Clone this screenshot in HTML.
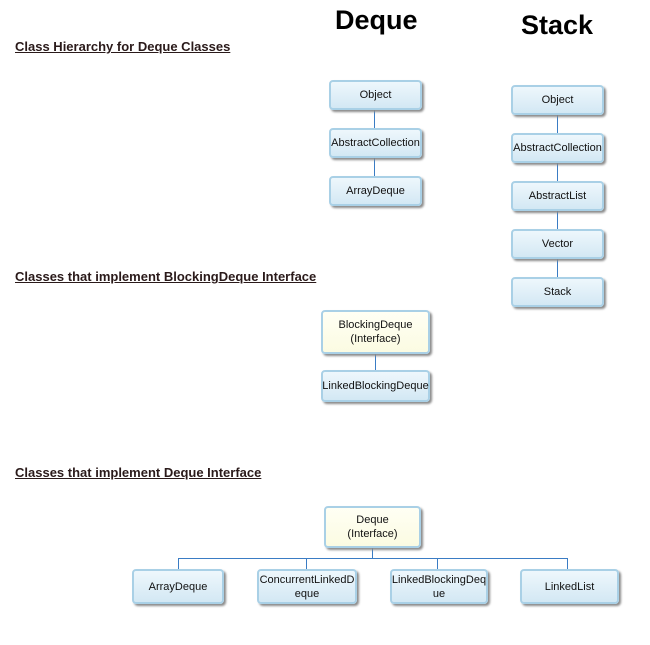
<!DOCTYPE html>
<html><head><style>
body{margin:0;width:650px;height:645px;background:#fff;position:relative;font-family:"Liberation Sans",sans-serif;overflow:hidden}
.t{position:absolute;font-weight:bold;font-size:27px;color:#000}
.h{position:absolute;left:15px;font-weight:bold;font-size:13px;text-decoration:underline;color:#2a1a1a}
.b{position:absolute;box-sizing:border-box;border:2px solid #a9d0e6;border-radius:4px;background:linear-gradient(#eef7fc,#d3e8f4);box-shadow:2px 2px 2px #8a8a8a;font-size:11px;color:#111;display:flex;align-items:center;justify-content:center;text-align:center;line-height:14px}
.y{background:linear-gradient(#fffff4,#fbfbe2)}
.v{position:absolute;width:1px;background:#3a7cc4}
.hl{position:absolute;height:1px;background:#3a7cc4}
</style></head><body>
<div class="t" style="left:335px;top:5px">Deque</div>
<div class="t" style="left:521px;top:10px">Stack</div>
<div class="h" style="top:39px">Class Hierarchy for Deque Classes</div>
<div class="h" style="top:269px">Classes that implement BlockingDeque Interface</div>
<div class="h" style="top:465px">Classes that implement Deque Interface</div>

<div class="v" style="left:374px;top:109px;height:70px"></div>
<div class="b" style="left:329px;top:80px;width:93px;height:30px">Object</div>
<div class="b" style="left:329px;top:128px;width:93px;height:30px">AbstractCollection</div>
<div class="b" style="left:329px;top:176px;width:93px;height:30px">ArrayDeque</div>

<div class="v" style="left:557px;top:114px;height:165px"></div>
<div class="b" style="left:511px;top:85px;width:93px;height:30px">Object</div>
<div class="b" style="left:511px;top:133px;width:93px;height:30px">AbstractCollection</div>
<div class="b" style="left:511px;top:181px;width:93px;height:30px">AbstractList</div>
<div class="b" style="left:511px;top:229px;width:93px;height:30px">Vector</div>
<div class="b" style="left:511px;top:277px;width:93px;height:30px">Stack</div>

<div class="v" style="left:375px;top:352px;height:20px"></div>
<div class="b y" style="left:321px;top:310px;width:109px;height:44px">BlockingDeque<br>(Interface)</div>
<div class="b" style="left:321px;top:370px;width:109px;height:32px">LinkedBlockingDeque</div>

<div class="v" style="left:372px;top:546px;height:12px"></div>
<div class="hl" style="left:178px;top:558px;width:390px"></div>
<div class="v" style="left:178px;top:558px;height:12px"></div>
<div class="v" style="left:306px;top:558px;height:12px"></div>
<div class="v" style="left:437px;top:558px;height:12px"></div>
<div class="v" style="left:567px;top:558px;height:12px"></div>
<div class="b y" style="left:324px;top:506px;width:97px;height:42px">Deque<br>(Interface)</div>
<div class="b" style="left:132px;top:569px;width:92px;height:35px">ArrayDeque</div>
<div class="b" style="left:257px;top:569px;width:100px;height:35px">ConcurrentLinkedD<br>eque</div>
<div class="b" style="left:390px;top:569px;width:98px;height:35px">LinkedBlockingDeq<br>ue</div>
<div class="b" style="left:520px;top:569px;width:99px;height:35px">LinkedList</div>
</body></html>
